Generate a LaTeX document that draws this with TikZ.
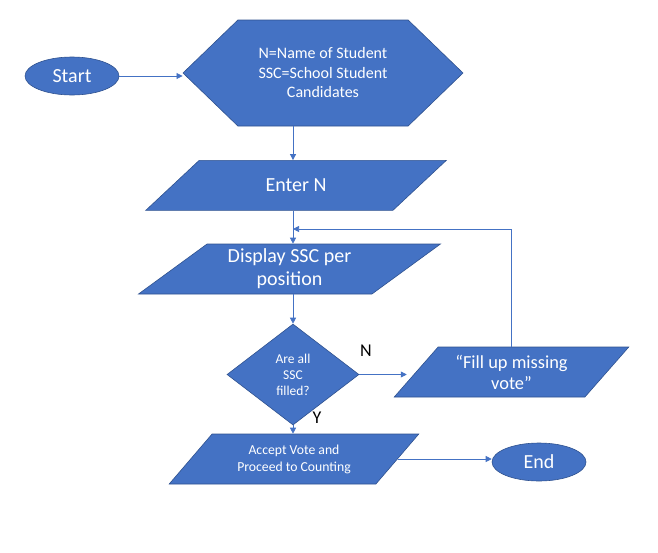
\documentclass[tikz,border=0pt]{standalone}
\usepackage{fontspec}
\setmainfont{Carlito}
\usetikzlibrary{shapes.geometric,shapes.symbols,arrows.meta}
\definecolor{boxblue}{HTML}{4472C4}
\definecolor{edgeblue}{HTML}{2F528F}

\begin{document}
\begin{tikzpicture}[x=1pt, y=-1pt,
  box/.style={fill=boxblue, draw=edgeblue, line width=0.6pt, text=white, align=center, inner sep=1pt},
  io/.style 2 args={box, trapezium, trapezium stretches=true, trapezium left angle=#1, trapezium right angle=#2, minimum height=50pt},
  term/.style={box, ellipse, minimum width=94pt, minimum height=38pt, font=\fontsize{20}{24}\selectfont},
  arr/.style={draw=boxblue, line width=0.75pt, -{Triangle[length=6pt,width=6pt]}},
  yn/.style={font=\fontsize{18}{20}\selectfont, inner sep=0pt}]
  \useasboundingbox (0,0) rectangle (658,552);
  % shapes
  \node[term] (start) at (72,76) {Start};
  \node[box, signal, signal to=west and east, signal pointer angle=88, minimum width=280pt, minimum height=106pt, font=\fontsize{16}{19.5}\selectfont] (hex) at (323,73) {N=Name of Student\\SSC=School Student\\Candidates};
  \node[io={40.8}{139.2}, minimum width=302pt, font=\fontsize{20}{23}\selectfont] (enter) at (296,185.4) {Enter N};
  \node[io={38.9}{141.1}, minimum width=303pt, font=\fontsize{20}{23}\selectfont] (display) at (289.5,269) {Display SSC per\\position};
  \node[box, diamond, aspect=1.3, minimum width=132pt, minimum height=101pt, inner sep=0pt, font=\fontsize{13.5}{16}\selectfont] (check) at (293,374.5) {Are all\\SSC\\filled?};
  \node[io={46.8}{133.2}, minimum width=235pt, font=\fontsize{18.4}{21}\selectfont] (fill) at (511.5,372) {“Fill up missing\\vote”};
  \node[io={45.6}{134.4}, minimum width=250pt, font=\fontsize{13.7}{17}\selectfont] (accept) at (294,459) {Accept Vote and\\Proceed to Counting};
  \node[term] (end) at (539,462) {End};
  \node[yn] (no) at (366,351) {N};
  \node[yn] (yes) at (317,418) {Y};
  \coordinate (rejoin) at (293,229);
  % connectors
  \draw[arr] (start.east) -- (start.east -| hex.west);
  \draw[arr] (hex.south -| check.north) -- (enter.north -| check.north);
  \draw[arr] (enter.south -| check.north) -- (display.north -| check.north);
  \draw[arr] (display.south -| check.north) -- (check.north);
  \draw[arr] (check.south) -- (accept.north -| check.south);
  \draw[arr, shorten >=9pt] (check.east) -- (check.east -| fill.west);
  \draw[arr] (fill.north) |- (rejoin);
  \draw[arr] (accept.east) -- (accept.east -| end.west);
\end{tikzpicture}
\end{document}
